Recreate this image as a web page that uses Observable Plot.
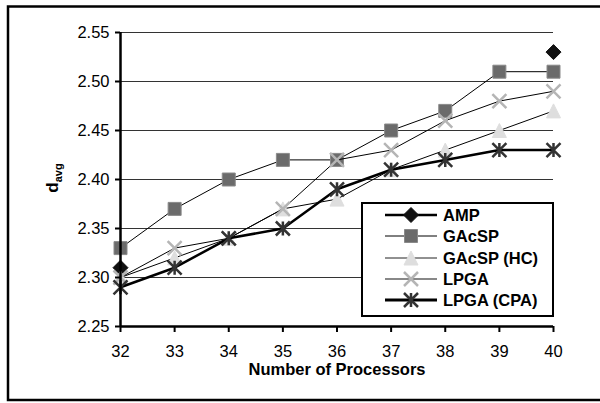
<!DOCTYPE html>
<html>
<head>
<meta charset="utf-8">
<script src="https://cdn.jsdelivr.net/npm/d3@7"></script>
<script src="https://cdn.jsdelivr.net/npm/@observablehq/plot@0.6"></script>
<style>
  html, body { margin: 0; padding: 0; background: #fff; overflow: hidden; }
</style>
</head>
<body>
<div id="chart"></div>
<script>
// ---- data ----
const processors = [32, 33, 34, 35, 36, 37, 38, 39, 40];
const seriesNames = ["AMP", "GAcSP", "GAcSP (HC)", "LPGA", "LPGA (CPA)"];
const amp      = [2.31, null, null, null, null, null, null, null, 2.53];
const gacsp    = [2.33, 2.37, 2.40, 2.42, 2.42, 2.45, 2.47, 2.51, 2.51];
const gacspHC  = [2.30, 2.32, 2.34, 2.37, 2.38, 2.41, 2.43, 2.45, 2.47];
const lpga     = [2.30, 2.33, 2.34, 2.37, 2.42, 2.43, 2.46, 2.48, 2.49];
const lpgaCPA  = [2.29, 2.31, 2.34, 2.35, 2.39, 2.41, 2.42, 2.43, 2.43];
const yTicks = [2.25, 2.30, 2.35, 2.40, 2.45, 2.50, 2.55];
const xTicks = processors;
const xLabel = "Number of Processors";

const FONT = "'Liberation Sans', Arial, sans-serif";

// ---- custom symbols (size = r^2 * PI) ----
const half = size => Math.sqrt(size / Math.PI);
const symDiamond = {draw(c, size) { const s = half(size); c.moveTo(0, -s); c.lineTo(s, 0); c.lineTo(0, s); c.lineTo(-s, 0); c.closePath(); }};
const symSquare = {draw(c, size) { const s = half(size); c.rect(-s, -s, 2 * s, 2 * s); }};
const symTriangle = {draw(c, size) { const s = half(size); c.moveTo(0, -s); c.lineTo(s, s); c.lineTo(-s, s); c.closePath(); }};
const symTimes = {draw(c, size) { const s = half(size); c.moveTo(-s, -s); c.lineTo(s, s); c.moveTo(s, -s); c.lineTo(-s, s); }};
const symStar = {draw(c, size) { const s = half(size); c.moveTo(-s, -s); c.lineTo(s, s); c.moveTo(s, -s); c.lineTo(-s, s); c.moveTo(0, -s); c.lineTo(0, s); }};

const styles = [
  {values: amp,     symbol: symDiamond,  r: 7.5, fill: "#111", stroke: "#111", sw: 1, line: null, legLine: {stroke: "#000", w: 2.5}},
  {values: gacsp,   symbol: symSquare,   r: 6.5, fill: "#6b6b6b", stroke: "#8a8a8a", sw: 1, line: {stroke: "#000", w: 1}, legLine: {stroke: "#000", w: 1}},
  {values: gacspHC, symbol: symTriangle, r: 7,   fill: "#dedede", stroke: "#dedede", sw: 1, line: {stroke: "#000", w: 1}, legLine: {stroke: "#222", w: 1}},
  {values: lpga,    symbol: symTimes,    r: 7,   fill: "none", stroke: "#b5b5b5", sw: 2.5, line: {stroke: "#000", w: 1}, legLine: {stroke: "#888", w: 2}},
  {values: lpgaCPA, symbol: symStar,     r: 7,   fill: "none", stroke: "#333", sw: 2.5, line: {stroke: "#000", w: 2.5}, legLine: {stroke: "#000", w: 3}}
];

const marks = [Plot.gridY(yTicks, {stroke: "#333", strokeOpacity: 1, strokeWidth: 1})];
styles.forEach((st, i) => {
  const rows = processors.map((p, j) => ({x: p, y: st.values[j], s: seriesNames[i]})).filter(d => d.y != null);
  if (st.line) marks.push(Plot.line(rows, {x: "x", y: "y", stroke: st.line.stroke, strokeWidth: st.line.w}));
  marks.push(Plot.dot(rows, {x: "x", y: "y", symbol: st.symbol, r: st.r, fill: st.fill, stroke: st.stroke, strokeWidth: st.sw}));
});
marks.push(
  Plot.ruleX([32], {stroke: "#000", strokeWidth: 2.5}),
  Plot.ruleY([2.25], {stroke: "#000", strokeWidth: 2.5}),
  Plot.axisY(yTicks, {tickSize: 5, tickPadding: 6, strokeWidth: 2, fontSize: 16.5, tickFormat: d3.format(".2f"), label: null}),
  Plot.axisX(xTicks, {tickSize: 6, tickPadding: 13, strokeWidth: 2, fontSize: 16.5, tickFormat: d => String(d), label: null}),
  Plot.text([xLabel], {frameAnchor: "bottom", dy: 43, lineAnchor: "middle", fontWeight: "bold", fontSize: 16.5, text: d => d})
);

const svg = Plot.plot({
  width: 600, height: 403,
  marginLeft: 120, marginRight: 47, marginTop: 32, marginBottom: 77,
  x: {domain: [32, 40]},
  y: {domain: [2.25, 2.55]},
  style: {fontFamily: FONT, fontSize: "16px", color: "#000", background: "#fff", overflow: "visible"},
  marks
});
document.getElementById("chart").appendChild(svg);

// ---- y-axis label with subscript ----
const s = d3.select(svg);
const yl = s.append("text")
  .attr("transform", "translate(58,178) rotate(-90)")
  .attr("text-anchor", "middle")
  .attr("font-family", FONT)
  .attr("font-weight", "bold")
  .attr("fill", "#000");
yl.append("tspan").attr("font-size", 17).text("d");
yl.append("tspan").attr("font-size", 11).attr("dy", 4).text("avg");

// ---- legend ----
const lg = s.append("g");
lg.append("rect").attr("x", 362).attr("y", 203).attr("width", 191).attr("height", 113)
  .attr("fill", "#fff").attr("stroke", "#000").attr("stroke-width", 2);
const rowY = [215, 236, 258, 279, 300];
styles.forEach((st, i) => {
  const y = rowY[i];
  lg.append("line").attr("x1", 385).attr("x2", 437).attr("y1", y).attr("y2", y)
    .attr("stroke", st.legLine.stroke).attr("stroke-width", st.legLine.w);
  const p = d3.path();
  st.symbol.draw(p, st.r * st.r * Math.PI);
  lg.append("path").attr("d", p.toString()).attr("transform", `translate(411,${y})`)
    .attr("fill", st.fill).attr("stroke", st.stroke).attr("stroke-width", st.sw);
  lg.append("text").attr("x", 443).attr("y", y).attr("dy", "0.36em")
    .attr("text-anchor", "start")
    .attr("font-family", FONT).attr("font-weight", "bold")
    .attr("font-size", 16.5).attr("fill", "#000").text(seriesNames[i]);
});

// ---- outer chart border ----
s.append("rect").attr("x", 8).attr("y", 6.5).attr("width", 620).attr("height", 393.5)
  .attr("fill", "none").attr("stroke", "#000").attr("stroke-width", 2.5);
</script>
</body>
</html>
